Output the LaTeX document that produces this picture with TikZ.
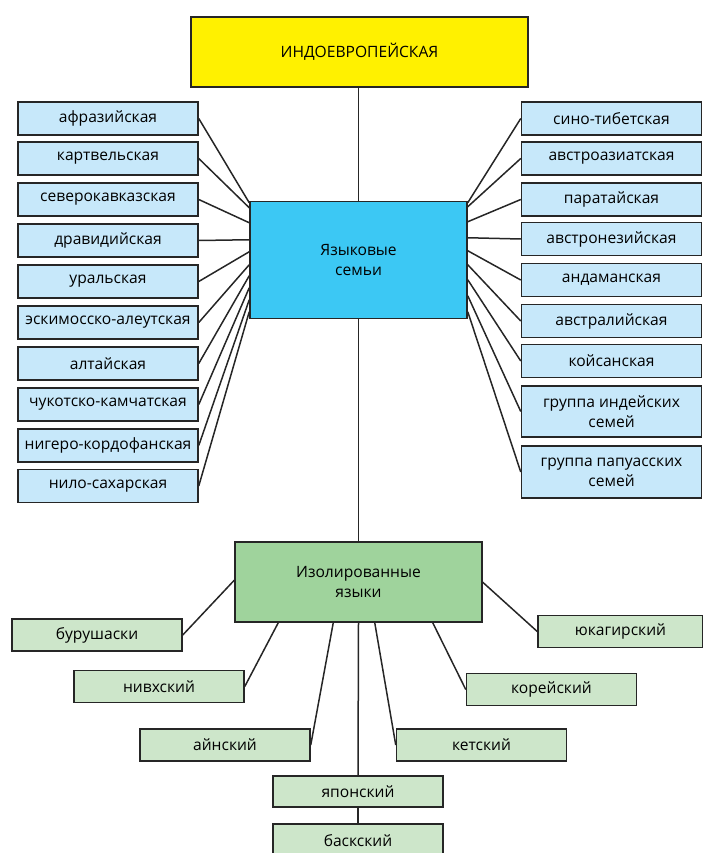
\documentclass[tikz,border=0pt]{standalone}
\usepackage{fontspec}
\setmainfont{Open Sans}
\usepackage{tikz}

\definecolor{indoyellow}{HTML}{FFF100}
\definecolor{famblue}{HTML}{3CC8F4}
\definecolor{famlight}{HTML}{C7E8FA}
\definecolor{isogreen}{HTML}{9FD39C}
\definecolor{isolight}{HTML}{CDE6CA}

\tikzset{
  box/.style={draw=black!85, line width=1.5pt, inner sep=0pt, align=center,
    font=\fontsize{15.6}{20}\selectfont},
  famitem/.style={box, fill=famlight, minimum width=180pt, minimum height=33pt},
  isoitem/.style={box, fill=isolight, minimum width=170pt, minimum height=32pt},
  link/.style={draw=black!85, line width=1.5pt}
}

\begin{document}
\begin{tikzpicture}[x=1pt,y=-1pt]
    \useasboundingbox (0,0) rectangle (703,853);
    % main boxes
    \node[box, fill=indoyellow, minimum width=337pt, minimum height=70pt] (indo) at (359.5,52) {ИНДОЕВРОПЕЙСКАЯ};
    \node[box, fill=famblue, minimum width=217pt, minimum height=117pt] (fam) at (358.5,260) {Языковые\\семьи};
    \node[box, fill=isogreen, minimum width=247pt, minimum height=80pt] (iso) at (358.5,582) {Изолированные\\языки};
    % left families
    \node[famitem] (afr) at (108,118.5) {афразийская};
    \node[famitem] (kart) at (108,158.5) {картвельская};
    \node[famitem] (sevkav) at (108,199.5) {северокавказская};
    \node[famitem] (drav) at (108,240.5) {дравидийская};
    \node[famitem] (ural) at (108,281.5) {уральская};
    \node[famitem] (eskim) at (108,322.5) {эскимосско-алеутская};
    \node[famitem] (alt) at (108,363.5) {алтайская};
    \node[famitem] (chuk) at (108,404.5) {чукотско-камчатская};
    \node[famitem] (niger) at (108,445.5) {нигеро-кордофанская};
    \node[famitem] (nilo) at (108,486) {нило-сахарская};
    % right families
    \node[famitem] (sino) at (611.5,118.5) {сино-тибетская};
    \node[famitem] (austas) at (611.5,158.5) {австроазиатская};
    \node[famitem] (parat) at (611.5,199.5) {паратайская};
    \node[famitem] (austron) at (611.5,239) {австронезийская};
    \node[famitem] (andam) at (611.5,280) {андаманская};
    \node[famitem] (austral) at (611.5,321) {австралийская};
    \node[famitem] (khoisan) at (611.5,361) {койсанская};
    \node[famitem, minimum height=51pt] (indian) at (611.5,411.5) {группа индейских\\семей};
    \node[famitem, minimum height=52pt] (papua) at (611.5,472) {группа папуасских\\семей};
    % isolates
    \node[isoitem] (buru) at (97,635) {бурушаски};
    \node[isoitem] (nivkh) at (159,686.5) {нивхский};
    \node[isoitem] (ainu) at (225,745) {айнский};
    \node[isoitem, minimum height=31pt] (japan) at (358,791.5) {японский};
    \node[isoitem, minimum height=33pt] (basque) at (358,840.5) {баскский};
    \node[isoitem, minimum width=165pt] (yukag) at (620.5,631.5) {юкагирский};
    \node[isoitem] (korea) at (551.5,689.5) {корейский};
    \node[isoitem] (ket) at (481.5,745) {кетский};
    % connectors
    \draw[link] (fam.north |- indo.south) -- (fam.north);
    \draw[link] (fam.south) -- (iso.north);
    \draw[link] (iso.south) -- (japan.north);
    \draw[link] (japan.south) -- (basque.north);
    \foreach \n/\d in {afr/2,kart/7,sevkav/22,drav/39,ural/51,eskim/64,alt/75,chuk/87,niger/99,nilo/111}
      \draw[link] (\n.east) -- ([yshift=-\d pt]fam.north west);
    \foreach \n/\d in {sino/2,austas/6,parat/21,austron/37,andam/50,austral/64,khoisan/79,indian/95,papua/111}
      \draw[link] (\n.west) -- ([yshift=-\d pt]fam.north east);
    \draw[link] (buru.east) -- ([yshift=-39pt]iso.north west);
    \draw[link] (nivkh.east) -- ([xshift=44pt]iso.south west);
    \draw[link] (ainu.east) -- ([xshift=99pt]iso.south west);
    \draw[link] (yukag.west) -- ([yshift=-41pt]iso.north east);
    \draw[link] (korea.west) -- ([xshift=-50pt]iso.south east);
    \draw[link] (ket.west) -- ([xshift=-108pt]iso.south east);
\end{tikzpicture}
\end{document}
